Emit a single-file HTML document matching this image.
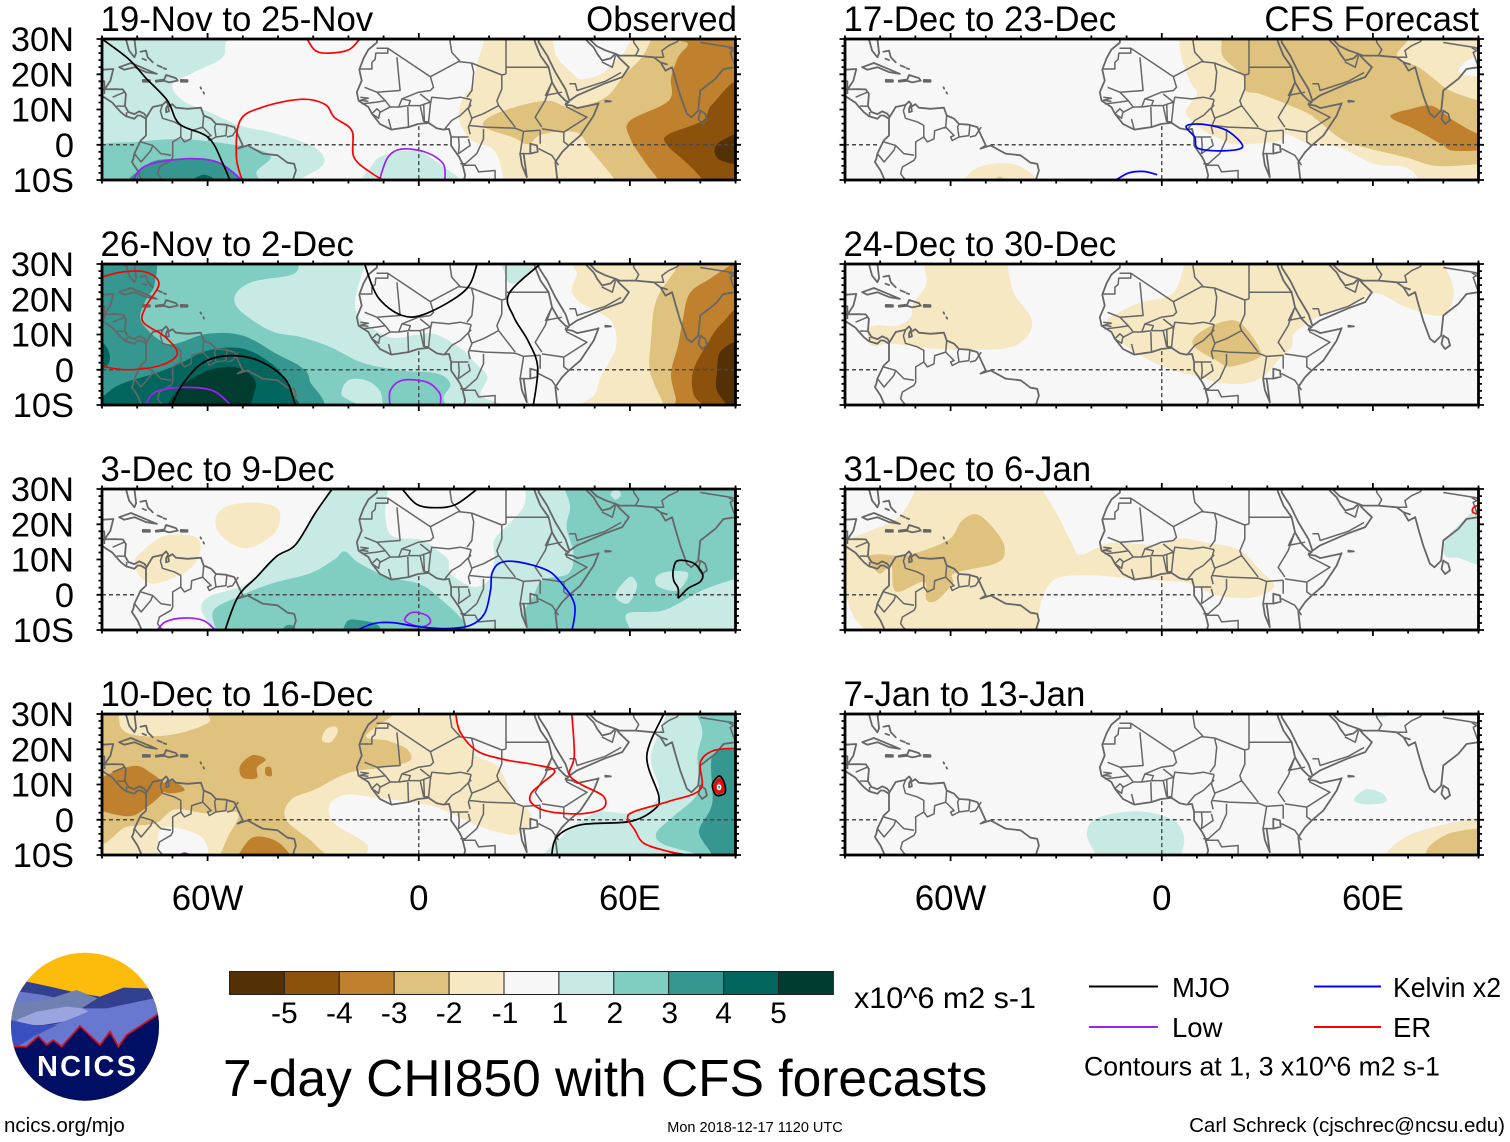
<!DOCTYPE html>
<html lang="en">
<head>
<meta charset="utf-8">
<title>7-day CHI850 with CFS forecasts</title>
<style>
html,body{margin:0;padding:0;background:#fff}
svg{display:block}
text{font-family:"Liberation Sans",Arial,sans-serif;fill:#000}
</style>
</head>
<body>
<svg id="chart" xmlns="http://www.w3.org/2000/svg" width="1510" height="1142" viewBox="0 0 1510 1142">
<rect width="1510" height="1142" fill="#fff"/>
<defs>
<clipPath id="logo-clip"><circle cx="85" cy="1026.7" r="74"/></clipPath>
</defs>
<g id="panels"></g>
<g id="colorbar"></g>
<g clip-path="url(#logo-clip)">
<g transform="translate(0,940) scale(0.33333)">
<rect x="25" y="30" width="460" height="460" fill="#fdbb0c"/>
<polygon points="80,125 150,140 215,155 300,170 370,143 445,145 490,215 30,270 30,230 55,160" fill="#33408f"/>
<polygon points="35,200 60,155 130,165 175,175 130,195 35,215" fill="#6a7ac8"/>
<polygon points="32,245 40,190 130,182 230,150 292,175 240,208 60,245" fill="#7080b0"/>
<polygon points="250,205 320,205 460,175 480,225 480,340 30,340 45,325 100,275 190,245" fill="#6878d0"/>
<polygon points="50,240 110,215 200,200 250,205 265,215 190,245 110,258 60,250" fill="#9aa5e0"/>
<polygon points="30,240 100,255 172,255 100,290 50,322 30,322" fill="#3a4fc0"/>
<polygon points="40,320 80,320 115,288 140,315 160,300 185,320 240,258 300,315 330,275 355,320 380,285 475,222 490,222 490,490 30,490" fill="#000e63"/>
<polyline points="40,320 80,320 115,288 140,315 160,300 185,320 240,258 300,315 330,275 355,320 380,285 475,222" fill="none" stroke="#d8101c" stroke-width="5"/>
</g>
</g>
<text x="37" y="1076" font-size="29" font-weight="bold" textLength="99" lengthAdjust="spacing" style="fill:#fff">NCICS</text>
<text x="854" y="1008" font-size="30" textLength="182" lengthAdjust="spacingAndGlyphs">x10^6 m2 s-1</text>
<text x="223" y="1096" font-size="51.5">7-day CHI850 with CFS forecasts</text>
<g>
<line x1="1089" y1="986.5" x2="1158" y2="986.5" stroke="#000" stroke-width="2"/>
<text x="1172" y="997" font-size="27.5">MJO</text>
<line x1="1314" y1="986.5" x2="1381" y2="986.5" stroke="#0000ff" stroke-width="2"/>
<text x="1393" y="997" font-size="27.5" textLength="108" lengthAdjust="spacingAndGlyphs">Kelvin x2</text>
<line x1="1089" y1="1027" x2="1158" y2="1027" stroke="#a020f0" stroke-width="2"/>
<text x="1172" y="1037" font-size="27.5">Low</text>
<line x1="1314" y1="1027" x2="1381" y2="1027" stroke="#ff0000" stroke-width="2"/>
<text x="1393" y="1037" font-size="27.5">ER</text>
<text x="1084" y="1075.5" font-size="27" textLength="356" lengthAdjust="spacingAndGlyphs">Contours at 1, 3 x10^6 m2 s-1</text>
</g>
<text x="4" y="1132" font-size="20.5">ncics.org/mjo</text>
<text x="755" y="1132" font-size="14.5" text-anchor="middle">Mon 2018-12-17 1120 UTC</text>
<text x="1505" y="1132" font-size="20.5" text-anchor="end">Carl Schreck (cjschrec@ncsu.edu)</text>
</svg>
<script>
// ---- colour scale ----
const levelColors = ['#543005','#8c510a','#bf812d','#dfc27d','#f6e8c3','#f7f7f7','#c7eae5','#80cdc1','#35978f','#01665e','#003c30'];
const barLabels = ['-5','-4','-3','-2','-1','1','2','3','4','5'];
const contourColors = {mjo:'#000000',low:'#a020f0',kelvin:'#0000ff',er:'#ff0000',eye:'#ffffff'};
const latTickLabels = [[30,'30N'],[20,'20N'],[10,'10N'],[0,'0'],[-10,'10S']];
const lonTickLabels = [[-60,'60W'],[0,'0'],[60,'60E']];
const panelTitles = ['19-Nov to 25-Nov','26-Nov to 2-Dec','3-Dec to 9-Dec','10-Dec to 16-Dec','17-Dec to 23-Dec','24-Dec to 30-Dec','31-Dec to 6-Jan','7-Jan to 13-Jan'];

// ---- shaded anomaly regions: [colour level, [[lon,lat],...]] ----
const shades1 = [
[6,[[-92,33],[-55,33],[-55,28.6],[-56,24.5],[-64,20.5],[-70,17],[-67,12.5],[-60,9.5],[-51,5.5],[-42,3.5],[-31,0],[-27,-3.5],[-28,-6.5],[-34,-10],[-36,-13],[-92,-13]]],
[6,[[-15,-13],[-13,-5.5],[-9,-2.7],[-0.5,-1.7],[6,-5.5],[12,-10],[13,-13]]],
[7,[[-92,-1],[-80,0.8],[-69,1.6],[-60,1],[-47,-1],[-42,-3.5],[-46,-7.5],[-49,-13],[-92,-13]]],
[8,[[-82,-13],[-77,-5.5],[-69,-4],[-58,-4.5],[-50,-10],[-50,-13]]],
[9,[[-67,-13],[-61,-8.5],[-55,-13]]],
[4,[[19,33],[18.7,30],[16.6,23],[15.3,17.2],[11.8,11.5],[11.8,5.9],[15.3,1.1],[21.5,-1.7],[24.2,-10],[24,-13],[93,-13],[93,33]]],
[5,[[37.5,33],[38,30],[39.3,24.8],[43.5,20.5],[46,18.6],[51.7,20],[55.8,23.8],[58.6,26.7],[59,33]]],
[3,[[66,33],[66,30],[63.4,24.8],[58.6,20],[53,13.4],[43.5,10.6],[36.6,12.5],[27,10.6],[20,7.8],[18.7,5],[27,2],[31,0.2],[35.2,3],[44.8,3.5],[49,-1.7],[55.8,-10],[56,-13],[93,-13],[93,33]]],
[2,[[73,33],[73,30],[76.5,28.6],[73.7,24.8],[71.7,19],[71,12.5],[60,6.8],[60,2],[64,-4.5],[68,-10],[68,-13],[93,-13],[93,33]]],
[1,[[92,17],[83.4,11.5],[80.6,6.8],[71,3],[70.3,0.2],[76.5,-5.5],[80.6,-10],[81,-13],[93,-13]]],
[0,[[93,3.5],[86,1.1],[84,-1.7],[86,-4.5],[93,-5]]]
];
const shades2 = [
[6,[[-92,33],[-15,33],[-16,28],[-18,20],[-17,15],[-12,11],[-7,9],[0,10],[5,10],[12,6],[16,2],[19.5,-2],[17.5,-7],[19,-13],[-92,-13]]],
[6,[[24,33],[24.5,27],[26,24.5],[29,25],[32,28],[35,33]]],
[7,[[-92,33],[-34,33],[-34,30],[-36,27],[-47,25],[-52,21.5],[-51,17],[-42,11],[-33.5,9.3],[-25,6.4],[-16,2],[-5,-0.2],[5,-1],[9,-4],[7,-8],[8,-13],[-8,-13],[-11,-6],[-15,-3],[-20,-3],[-22,-7],[-20,-13],[-92,-13]]],
[8,[[-92,33],[-76,33],[-75,24.4],[-77.6,19.7],[-79,14],[-73.5,8.3],[-69,7.4],[-60,10.2],[-50,9.7],[-40.4,4.5],[-33.5,0.8],[-31,-3],[-31.5,-13],[-92,-13]]],
[9,[[-92,-10],[-89,-7],[-84.5,-4],[-74.8,-1],[-68,1.7],[-59.7,5.5],[-50,6],[-41.8,1.7],[-37.7,-3],[-36.3,-6],[-38.4,-13],[-92,-13]]],
[9,[[-92,8],[-90,8],[-88,5],[-88,2],[-90,0],[-92,0]]],
[10,[[-70.7,-13],[-68.6,-6],[-61,-0.7],[-52.8,0.8],[-47.3,-2],[-46.6,-6],[-51.4,-13]]],
[4,[[47,33],[45,27],[43.5,22.5],[46,19],[54.5,14],[56,6.4],[51.7,-2],[50,-7],[46,-13],[93,-13],[93,33]]],
[3,[[74,33],[73.7,29.6],[67.5,19.7],[66,8.3],[65.5,0.8],[66.9,-4],[69.6,-10],[70,-13],[93,-13],[93,33]]],
[2,[[93,33],[89,30],[83,26],[77,21.7],[75,14],[73.7,7],[71.7,-1],[73,-8],[74,-13],[93,-13]]],
[1,[[93,17],[86,13],[82,7.4],[78,-0.2],[78,-6.8],[80.6,-10],[81,-13],[93,-13]]],
[0,[[93,7],[86,5.5],[84.7,-1],[84.7,-5.9],[87.5,-10],[88,-13],[93,-13]]]
];
const shades3 = [
[6,[[-25,33],[-25.3,30],[-29.4,23],[-35,13.7],[-41.8,10],[-48.7,3.2],[-59.7,-0.6],[-61.7,-4.4],[-58.3,-10],[-58,-13],[93,-13],[93,33]]],
[5,[[-8.8,33],[-8.8,30],[-9.5,22.3],[-7.4,16.6],[0.8,15.6],[5,12.8],[8.4,9.9],[9,6.1],[15.3,2.3],[20,4.2],[21.5,10],[21.5,15.6],[25.6,20],[29.8,25],[30.4,30],[30.4,33]]],
[7,[[40,33],[41.4,30],[43,25],[42,19],[44,11.7],[42.5,6],[35.2,4.2],[32.5,-0.6],[29.7,-5.3],[31,-10],[31,-13],[60,-13],[60,-10],[59.3,-5.3],[69.6,-4.4],[80,1],[89,4.2],[93,5],[93,33]]],
[6,[[55.8,-0.1],[60,5.1],[62,2.3],[59.3,-2.5]]],
[6,[[67.5,5.1],[71,6.6],[76.5,6.1],[73.7,1.3],[68,2.3]]],
[6,[[54.5,28.5],[56,30],[57.5,28.5],[56,27]]],
[7,[[-21,12.3],[-17,9],[-8.8,5.1],[0.8,2.8],[7.7,-2.5],[12.5,-7.2],[13.2,-10],[13,-13],[-57,-13],[-57.6,-10],[-58.3,-4.4],[-51.4,-0.6],[-41.8,3.2],[-30.8,6.1],[-24,10]]],
[8,[[-21,-13],[-20.5,-7.7],[-17,-7.2],[-11.5,-8.7],[-11,-13]]],
[8,[[-40,-13],[-38,-9],[-35.5,-9],[-34,-13]]],
[4,[[-57,23.2],[-52.8,25.6],[-44.6,26],[-39.6,23.7],[-41,17.5],[-48.7,13.2],[-54.9,15.6],[-57.6,19.4]]],
[4,[[-80.7,9],[-79.2,11.8],[-72.4,16.6],[-64,16.6],[-62,12.8],[-65.4,7],[-74.8,3.2],[-79,5]]]
];
const shades4 = [
[4,[[-92,33],[10.5,33],[10.5,29.7],[13,22.9],[16.6,18.1],[22.8,14.8],[27,5.7],[31,2.9],[31.8,-1],[27,-4.3],[17.3,-1.9],[9,1.9],[2.2,4.3],[-11.5,6.2],[-20.5,7.1],[-25.3,4.3],[-24,-1],[-15,-6.7],[-15,-10],[-15,-13],[-92,-13]]],
[5,[[-74,-13],[-74,-9.5],[-73.5,-2.9],[-68,-2.4],[-61,-5.7],[-61,-13]]],
[3,[[-92,33],[-86,33],[-84.5,26],[-79,23.8],[-69.3,24.3],[-59.7,27.6],[-56,33],[-7,33],[-7.4,29.7],[-15,23.8],[-8.8,22.4],[-3.3,20],[-2.6,16.7],[-10,14.8],[-20,13.3],[-29.4,8.6],[-36.3,5.7],[-37.7,0],[-29.4,-7.1],[-26.7,-13],[-56,-13],[-56.3,-10],[-54.2,-4.8],[-51.4,1.9],[-61,1.9],[-69.3,2.9],[-74.8,-1],[-83,-2],[-92,-5]]],
[4,[[-27.5,22.5],[-26.5,25.5],[-24,26.5],[-23,25],[-25,22]]],
[2,[[-93,10],[-81.7,15.2],[-76.2,13.3],[-72,9],[-77.6,3.3],[-83,1],[-93,4]]],
[2,[[-73,10],[-70,11],[-66.5,8.5],[-70,7.5],[-72.5,8]]],
[2,[[-50.8,15.2],[-47.3,18.3],[-43.5,17.1],[-46,14.8],[-46,11.9],[-50,11.9]]],
[2,[[-43.5,14.8],[-42,14.8],[-41.8,12.4],[-43.5,12.8]]],
[2,[[-51,-13],[-48.7,-6.2],[-44.6,-4.8],[-39,-7.1],[-36.3,-13]]],
[6,[[39,-13],[40.7,-4.8],[50.3,1.9],[60,1.9],[66.9,4.8],[68.2,9.5],[66,18],[70.3,29.7],[70,33],[93,33],[93,-13]]],
[7,[[79,33],[79.2,29.7],[80.6,24.8],[79.2,18],[79.2,7.6],[72.4,1],[67.5,-3.8],[69.6,-7],[79.2,-10],[79,-13],[93,-13],[93,33]]],
[8,[[93,20],[90,20],[83.4,18],[83.4,4.8],[80,-1.9],[80,-4.8],[83.4,-10],[84,-13],[93,-13]]]
];
const shades5 = [
[4,[[5,33],[5,30],[5.6,24.8],[8,18],[10,14.4],[6.9,9.6],[9.4,5.9],[15.6,2],[21.9,0.2],[33,1],[35.6,3],[41.9,0.2],[50.6,-0.8],[60.6,-5.5],[69.4,-6.4],[73,-10],[73,-13],[93,-13],[93,33]]],
[5,[[89,24.8],[85.6,23],[84.4,20.5],[88,19.6],[93,20],[93,25]]],
[3,[[17,33],[17,29.5],[17.5,24.8],[23,19.6],[23.8,15.3],[28,14.4],[35.6,11.5],[41.9,8.7],[44.4,6.8],[51.9,1.1],[59.4,-1.2],[69.4,-3.6],[78,-6],[90,-5.5],[93,-5],[93,12],[90,12.5],[82,15.3],[78,18.2],[73,22],[66.9,25.2],[66.9,33]]],
[2,[[65.6,8.7],[70.6,10.1],[76.9,11],[83,6.8],[90,3],[93,3],[93,-1],[83,-1.7],[79.4,0.2],[71.9,4.4],[65.6,7.3]]],
[4,[[-55.6,-13],[-53.8,-7.4],[-46.9,-5.2],[-40.6,-6],[-35.6,-9.7],[-35,-13]]],
[3,[[-48.5,-12],[-46,-9],[-43.5,-12]]]
];
const shades6 = [
[4,[[-67.5,33],[-67.5,29.6],[-66.9,24.4],[-70.6,18.7],[-71.3,15],[-75,12.5],[-80.6,12.6],[-83.4,11.6],[-82.5,6.9],[-76.9,7.4],[-64.4,6],[-46.9,5.8],[-39.4,8.3],[-36.9,14],[-41.9,21.6],[-43.8,29.6],[-43.8,33]]],
[4,[[6.3,33],[6.3,29.6],[3,21.6],[-5.6,19.2],[-11.9,16.4],[-15.6,13.5],[-11.9,8.3],[-6.9,4.5],[2,0.3],[10.6,-2],[15.6,-3.5],[23,-4],[28.8,-2],[33,2.6],[36.9,6.4],[37.5,10.2],[42.5,14],[44.4,15],[55.6,19.2],[61.3,21.6],[69.4,17.8],[79.4,15.4],[83,21.6],[80.6,29.6],[80.6,33]]],
[3,[[9.4,9.3],[14.4,12.6],[20.6,14],[24.4,11.2],[28,5.5],[27,3.1],[19.4,0.9],[15.6,2.6],[9.4,6.4]]]
];
const shades7 = [
[4,[[-93,-1],[-90,-0.6],[-87.5,-6.3],[-84.4,-10],[-84,-13],[-35,-13],[-35,-10],[-34.4,-2.5],[-30.6,4.2],[-21.9,5.6],[-9.4,4.7],[0,4],[8,3.2],[15.6,-0.1],[25.6,-0.8],[31.9,2.3],[28,7],[21.9,12.8],[13,14.7],[5.6,16],[-1.9,14.2],[-14.4,14.7],[-23,11.3],[-25.6,14.7],[-29.4,22.3],[-33.8,30],[-33,33],[-70,33],[-70,30],[-74.4,22.3],[-81.9,18.5],[-90,15.6],[-93,15]]],
[3,[[-83,11],[-80,11.5],[-72,11.3],[-60.6,15.6],[-56.9,20.9],[-52.5,22.8],[-47.5,18.5],[-44.6,13.2],[-46.9,9],[-58.8,6.1],[-59.4,3.2],[-63.8,-1.5],[-66.9,-1.5],[-67.5,3.7],[-74.4,0.9],[-76.3,2.3],[-76.9,8.5],[-80,6],[-83,9]]],
[6,[[80.6,10.9],[80.6,15.6],[86.9,22.3],[90,25],[93,25],[93,9],[90,8.5],[84.4,10.4]]]
];
const shades8 = [
[6,[[-21.3,-3.8],[-18.1,0.5],[-6.9,2.4],[3.1,0],[6.3,-4.8],[5.6,-10],[5.6,-13],[-19,-13],[-18.8,-10]]],
[6,[[54.8,6.2],[58.1,8.6],[62.5,7.6],[63.8,5.2],[59.4,4.3],[55.6,4.8]]],
[6,[[60,33],[60.5,30],[62.5,29],[65,30],[65,33]]],
[4,[[63.8,-9.5],[69.4,-4.8],[78,-1.9],[90,0.5],[93,0.5],[93,-13],[63,-13]]],
[3,[[75,-9.5],[76.9,-6.7],[82,-3.8],[90,-2.4],[93,-2.4],[93,-13],[75,-13]]]
];

// ---- contour lines: [wave type, [[lon,lat],...], closed, optional width] ----
const contours1 = [
['low',[[-81.4,-10.5],[-77.6,-6],[-66.6,-4],[-57,-5],[-49.8,-10.5]]],
['low',[[-11.3,-10.5],[-8.8,-3.6],[-4.7,-1.2],[2.2,-2.2],[7,-5.5],[7.4,-10.5]]],
['er',[[-32,30.5],[-29.4,26.7],[-25.3,26],[-19.8,27],[-16.8,30]]],
['er',[[-50,-10.5],[-51.8,-3.6],[-50.8,6.8],[-44.6,10.6],[-33.6,12.9],[-26.7,11.5],[-24,7.8],[-19,4],[-18.4,-3.6],[-13,-8.3],[-9,-10.5]]],
['mjo',[[-90,30],[-82.4,24.3],[-77.6,19],[-71.4,12.5],[-68,5.9],[-59.7,2],[-55.6,-5.5],[-53.5,-10.5]]]
];
const contours2 = [
['er',[[-91,26],[-84.5,27.7],[-77.6,27.7],[-73.8,24.4],[-77.6,17.8],[-78.3,13.5],[-72,9.3],[-68.6,4.5],[-73.5,1.2],[-83,0],[-91,1.2]]],
['low',[[-77.9,-10.5],[-74.8,-6.3],[-66.6,-5],[-58.3,-6],[-53,-10.5]]],
['low',[[-8.1,-10.5],[-8.1,-6],[-4.7,-3],[2.2,-3.5],[6,-6.8],[6,-10.5]]],
['mjo',[[-70.4,-10.5],[-67,-4],[-61,2.2],[-52.8,4],[-44.6,2.2],[-37.7,-3],[-35,-10.5]]],
['mjo',[[-15.4,30],[-11.6,20.6],[-4.7,15.4],[2.2,16],[13.2,22.5],[16.6,30]]],
['mjo',[[34.5,30],[25.6,21.5],[27,15],[31,8.3],[33.8,0.8],[32.5,-10.5]]]
];
const contours3 = [
['low',[[-74.6,-10.5],[-72,-7.7],[-66.6,-6.6],[-61,-7.4],[-57.4,-10.5]]],
['low',[[-4,-7.2],[-1.9,-5],[2.2,-5.8],[3.3,-7.7],[1.5,-9],[-1.2,-8.7]],true],
['kelvin',[[-18.4,-10.5],[-13,-8.2],[-7.4,-7.9],[-0.5,-9],[7.7,-9.6],[14.6,-8.7],[18.7,-5.3],[20.4,1.3],[20.8,6.1],[23,9],[27.6,9.4],[35.2,7.5],[39.3,4.7],[44.2,-2.5],[43.5,-10.5]]],
['mjo',[[-55.2,-10.5],[-51.4,-0.6],[-46,5.1],[-40.4,10.9],[-35,14.2],[-29.4,23.2],[-24.6,30]]],
['mjo',[[-4.7,30],[-0.5,25.6],[5,24.7],[10.5,25.6],[16.6,30]]],
['mjo',[[73.7,-1],[76.5,1.8],[80,3.7],[80.6,6],[78,9],[73.7,9.7],[72.4,7.5],[72.4,4.2],[73.7,1.8],[73.7,-1]]]
];
const contours4 = [
['low',[[-69,-10.5],[-66.5,-9.5],[-64,-10.5]]],
['er',[[10.5,30],[11.8,24.8],[16.6,19.5],[24.2,17.1],[32.5,15.7],[38.6,14],[35.2,10.5],[32,7.6],[32,4.8],[36.6,2.4],[46.2,1.7],[52.4,3.3],[52.4,6.7],[46.2,10],[42.8,12.9],[44.2,18.1],[43.5,30]]],
['mjo',[[37.7,-10.5],[39.3,-4.8],[46.2,-1.4],[60,-0.5],[66.9,2.9],[68.2,6.7],[64.8,18.1],[69.6,30]]],
['er',[[79.2,-10.5],[71,-9],[64,-6.7],[61.4,-2.9],[59.3,0.5],[61.4,2.4],[71,5.2],[80,8.6],[80,16.2],[83.4,19.5],[88.9,20.2],[90,20]]],
['mjo',[[83.6,10.5],[85.4,12.4],[86.8,10.5],[87,7.6],[84.7,6.9],[83.6,8.6]],true],
['er',[[84.3,10],[85.5,11.3],[86.2,10],[86.3,8.2],[85,7.8],[84.2,8.8]],true,3.2],
['eye',[[85,9.7],[85.7,9.7],[85.7,8.8],[85,8.8]],true,1.4]
];
const contours5 = [
['kelvin',[[6.9,5.1],[10,5.9],[15.6,5.1],[19.4,3.5],[22.9,0],[21.3,-1.4],[14.4,-1.7],[10,-0.8],[9.4,2.1]],true],
['kelvin',[[-13,-10],[-9.4,-8],[-5,-7.6],[-1.3,-8.5]]]
];
const contours6 = [];
const contours7 = [
['er',[[90,25.4],[88.5,24.7],[88.4,23.4],[90,22.8]]]
];
const contours8 = [];

// ---- geography (lon,lat polylines), shared by all panels ----
const coastLines = [
// West Africa
[[-11.9,30],[-11.9,29],[-14.3,27],[-15.7,24.5],[-16.9,21.3],[-16.2,18.2],[-17.6,14.9],[-17.1,12.5],[-14.3,10.7],[-13.3,8.8],[-11,5.9],[-7.8,4.3],[-2.9,5],[-0.2,5.9],[2.8,6.2],[5.1,4.7],[7,4.3],[8.6,4.5],[9.2,2.2],[9.2,-0.2],[11.5,-3.5],[12.3,-5.1],[13.2,-8.7],[12.7,-10.5]],
// East Africa
[[32.8,30],[33.1,29],[34.6,25.3],[36.9,22],[37.9,17.7],[39.8,14.4],[41.7,12.5],[42.6,12.1],[41.7,11.4],[43.6,11.1],[45,10.4],[50.7,11.6],[51.1,11.8],[49.7,8.3],[45.9,2.6],[42.6,-0.2],[40.7,-2.1],[38.8,-4.9],[39.3,-9.4],[39.3,-10.5]],
// Arabia
[[34,30],[34.1,29],[36.5,25.3],[38.8,20.6],[41.7,15.8],[42.8,12.5],[45,14],[52.6,17.3],[57.8,19.2],[59.7,22],[57.3,24.3],[55.9,25.8],[54.5,24.5],[52.1,23.9],[50.7,25.8],[49.7,27.6],[47.8,29.5],[47.5,30]],
// Iran, Pakistan, India
[[48.5,30],[50.5,28],[53,26.8],[55.9,25.8],[57,25.3],[61.6,25.3],[66.8,24.8],[68.7,23.4],[70.1,21],[72,22],[72.9,18.7],[74.3,14],[76.2,8.8],[77.5,7.8],[79.4,9.7],[80,15.4],[84.3,18.7],[86.6,21.5],[90,22]],
[[68.7,23.4],[70.5,22.8]],
// Sri Lanka
[[80,9.7],[81.4,8.8],[81.9,6.9],[80.5,5.9],[79.5,7.3],[80,9.7]],
// Florida, Bahamas
[[-83.2,30],[-82.3,26.7],[-80.8,24.8],[-80.3,26],[-80.8,30]],
[[-79.1,26.4],[-77.5,26.7],[-77,24.8],[-75.6,23.4]],
[[-78.5,24.4],[-77.5,24]],
[[-74.2,22.5],[-73,22]],
[[-72.5,21.7],[-71.8,21.5]],
// Cuba
[[-85.1,22],[-81.8,23.2],[-78.9,22],[-74.4,20.1],[-77.5,20.6],[-80.8,22],[-83.7,21.3],[-85.1,22]],
// Jamaica, Hispaniola, Puerto Rico
[[-78.4,18.4],[-76.4,18.3],[-76.4,17.9],[-78.4,17.9],[-78.4,18.4]],
[[-74.7,18.2],[-72.3,18.5],[-71.8,19.8],[-69,18.9],[-68.5,18.2],[-70.9,17.7],[-72.3,18.1],[-74.7,17.9]],
[[-67.6,18.4],[-65.7,18.3],[-65.7,17.9],[-67.6,17.9],[-67.6,18.4]],
[[-62,16.3],[-61.8,15.9]],
[[-61.2,14.9],[-61,14.5]],
// Socotra
[[53,12.5],[54.6,12.3],[53,12.2]],
// Yucatan
[[-89.8,21.3],[-86.8,21.5],[-87.6,18.2],[-89.2,15.8]],
// Atlantic side of Central and South America
[[-90.5,15.7],[-86.5,15.8],[-84.1,15.7],[-83.2,14.4],[-83.5,11],[-82.5,9.3],[-80.8,8.7],[-79.4,9.5],[-78,8.8],[-77.3,7.9],[-75.6,10.7],[-72.8,11.3],[-71.8,12.3],[-71.2,11.5],[-71.8,10.3],[-71.8,9.2],[-71,9.5],[-71.2,10.8],[-70,11.5],[-69,10.5],[-65.7,10.2],[-61.9,10.5],[-61.1,8.3],[-59,7.4],[-57.6,5.9],[-54.8,5.7],[-52.4,5],[-51.3,2.6],[-50,-0.2],[-51.5,-1.1],[-50,-0.6],[-48.6,-0.2],[-44.4,-2.5],[-40.1,-3],[-37.3,-5.1],[-35.4,-5.4],[-34.9,-7.3],[-35.6,-9.4],[-36,-10.5]],
// Pacific side
[[-90.5,14.2],[-87,11.9],[-86,10.7],[-84.6,9.2],[-83.2,8.1],[-80.8,7.4],[-79.9,8.3],[-79,8.3],[-77.5,7.4],[-77.5,2.6],[-79,1.2],[-80.8,-2.5],[-81.1,-4],[-81.5,-4.9],[-79.9,-7.3],[-78.5,-10.5]],
// Lakes
[[31.7,0.3],[33.6,-0.2],[33.8,-2],[31.7,-2.5],[31.7,0.3]],
[[28.8,-2.5],[29.3,-5.8],[30.7,-9.2],[30.3,-6.2],[29.8,-2.5]]
];
const borderLines = [
// Western Sahara, Mauritania
[[-12,27.4],[-8.8,27.4],[-8.8,26],[-12.2,26],[-12.4,24.2],[-13.3,23.4],[-13.3,21.5],[-16.9,21.5]],
[[-8.8,27.4],[3.3,19.3]],
[[-6.2,24.8],[-5.3,15.4],[-11.9,14.9],[-15.4,16.3]],
// Mali
[[3.3,19.3],[4.2,16.3],[3.3,15.4],[-0.1,14.9],[-4.8,13],[-5.7,10.7]],
[[-11.9,14.9],[-9.5,12.5],[-8.1,10.7],[-5.7,10.7]],
// Senegal, Gambia, Guinea
[[-16.6,13.5],[-14.3,13.2],[-16.6,12.6],[-14.3,12.3]],
[[-16.2,11.6],[-11.9,12.1],[-9.5,12.5]],
[[-13.3,8.8],[-11.9,10.2],[-11,9.4],[-11.4,7.5],[-13.3,8.8]],
[[-11,9.2],[-8.1,10.7]],
[[-8.6,7.3],[-7.8,4.3]],
// Burkina, Ghana, Togo, Benin
[[-5.7,10.7],[-2.9,11.1],[-2.4,12.5],[-4.8,13]],
[[-2.9,11.1],[0.4,11.1],[3.3,12.1],[0.4,14.4]],
[[-3.1,10.7],[-2.9,5]],
[[0.4,11.1],[1.4,6.5]],
[[1.4,11.5],[1.6,6.5],[2.8,6.5],[3.3,11.5],[3.3,12.1]],
// Niger, Nigeria, Chad, Cameroon
[[3.3,11.5],[3.7,13.5],[8.5,13],[11.8,13.5],[14.9,12.8]],
[[14.9,11.3],[11.8,8.3],[9.4,6.9],[7.4,4.5]],
[[14.9,12.8],[14.1,10.2],[15.1,7.4],[14.1,5],[14.6,3]],
[[9.2,2.2],[14.1,2.2]],
[[15,23.2],[15.6,20.6],[15.1,15.4],[13.7,13.5]],
[[3.3,19.3],[11.3,23.6],[15,23.2]],
[[8.9,30],[8.9,29.2],[9.4,26.2],[11.8,23.6]],
[[15,23.2],[23.6,19.8],[24.8,20.1]],
[[24.8,30],[24.8,20.1]],
[[24.8,22],[36.9,22]],
// Sudan, CAR, South Sudan
[[23.6,19.8],[23.6,15.8],[22.2,12.5],[22.7,11.1],[18.4,8.8],[14.9,7.5]],
[[22.7,11.1],[27.4,5]],
[[14.1,5.5],[18.9,5],[27.4,4.7],[29.8,3.8],[34.5,4.1]],
[[37.8,17.7],[35.9,12.5],[33.1,7.8],[35,5]],
[[37.8,17.7],[36,14],[40.7,14.9]],
// Congo, Gabon, DRC, Angola
[[18.4,4.5],[18.4,1.7],[16.5,-2.5],[13.2,-5.4],[11.8,-5.4]],
[[11.3,2.2],[11.5,-0.2],[11.3,-2.5],[14.6,-0.2],[14.1,1.7]],
[[12.7,-5.8],[16,-5.8],[17,-7.7],[21.7,-7.3],[21.7,-10.5]],
// Uganda, Kenya, Tanzania
[[34.5,4.1],[34.5,0.3]],
[[28.8,-2.5],[31.7,-2.5]],
[[34,-1.1],[37.8,-3],[39.7,-5.8]],
[[28.8,-2.5],[29.8,3.8]],
// Ethiopia, Somalia
[[35,4.5],[41.2,3.6],[47.8,7.8],[42.1,10.7],[41.7,12]],
[[41.2,3.6],[41.2,0.8],[42.6,-0.2]],
// Arabia
[[42.8,17.3],[44.5,17.3],[45,15.4],[53,18],[57.5,20.5]],
[[55.9,25.3],[55,22],[52,23.5]],
// Iran/Pakistan/India
[[61.6,25.3],[62.5,27],[61.1,29],[61,30]],
[[66.8,24.8],[69.6,24.8],[69.1,26.7],[71,28.1],[73.4,29.2],[74,30]],
[[80,29],[89,27.6],[90,27.2]],
[[88,27.6],[89.5,26.7],[88.5,26.2],[90,22]],
// Central America
[[-89.8,18],[-89.3,18],[-89.3,15.7],[-89.3,14.4]],
[[-87,13.5],[-83.5,15]],
[[-85.8,11],[-83.7,10.9]],
[[-83,9.3],[-83,8.2]],
// South America
[[-72.8,11.3],[-73.4,9.6],[-72.8,7.5],[-69.5,6.5],[-67.6,5.5],[-67.6,2.2],[-66.6,0.8],[-64.7,1.7],[-64.5,4],[-61.4,5],[-61.1,8.3]],
[[-77.3,7.9],[-77.5,7.4]],
[[-67.6,2.2],[-69.9,0.8],[-69.9,-3.5],[-70.4,-4.4],[-73.7,-6.3],[-74.2,-8.2],[-73.3,-9.4],[-72,-10.5]],
[[-79,0.8],[-75.6,-0.2],[-73.3,-2.5],[-70.4,-3]],
[[-75.6,-0.2],[-76.1,-1.6],[-78.9,-4.9],[-80.8,-2.5]],
[[-61.4,5],[-59,2.6],[-60,2.2],[-59.5,1.2],[-57.6,2.2],[-58,5],[-57.6,5.9]],
[[-57.6,2.2],[-54.8,2.6],[-54.5,5.7]],
[[-54.5,2.2],[-52.9,2.6],[-51.3,5]]
];
const equatorOceanSegments = [[-90,-80.3],[-48.6,8.9],[43,90]];
const meridianOceanSegment = [5.3,-10];

const allShades = [shades1,shades2,shades3,shades4,shades5,shades6,shades7,shades8];
const allContours = [contours1,contours2,contours3,contours4,contours5,contours6,contours7,contours8];

// ---- layout ----
const PANEL_W = 633.5, PANEL_H = 141;
const panelLeft = [102,845];
const panelTop = [39,264,489,714];
const LON_MIN = -90, LON_MAX = 90, LAT_MAX = 30, LAT_MIN = -10;
const NS = 'http://www.w3.org/2000/svg';

function xAxis(col, lon){ return panelLeft[col] + (lon-LON_MIN)/(LON_MAX-LON_MIN)*PANEL_W; }
function yAxis(row, lat){ return panelTop[row] + (LAT_MAX-lat)/(LAT_MAX-LAT_MIN)*PANEL_H; }
function el(parent, tag, attrs){
  const e = document.createElementNS(NS, tag);
  for (const k in attrs) e.setAttribute(k, attrs[k]);
  parent.appendChild(e);
  return e;
}
function smooth(pts, closed){
  const n = pts.length, f = v => v.toFixed(1);
  let d = 'M'+f(pts[0][0])+' '+f(pts[0][1]);
  const last = closed ? n : n-1;
  for (let i=0;i<last;i++){
    const p0 = closed ? pts[(i-1+n)%n] : pts[Math.max(i-1,0)];
    const p1 = pts[i%n];
    const p2 = pts[(i+1)%n];
    const p3 = closed ? pts[(i+2)%n] : pts[Math.min(i+2,n-1)];
    d += 'C'+f(p1[0]+(p2[0]-p0[0])/6)+' '+f(p1[1]+(p2[1]-p0[1])/6)+' '+f(p2[0]-(p3[0]-p1[0])/6)+' '+f(p2[1]-(p3[1]-p1[1])/6)+' '+f(p2[0])+' '+f(p2[1]);
  }
  return d + (closed ? 'Z' : '');
}

const root = document.getElementById('panels');
const svg = document.getElementById('chart');
const defs = svg.querySelector('defs');

for (let idx=0; idx<8; idx++){
  const col = idx<4 ? 0 : 1, row = idx%4;
  const X = lon => xAxis(col, lon), Y = lat => yAxis(row, lat);
  const proj = pts => pts.map(p => [X(p[0]), Y(p[1])]);
  const L = panelLeft[col], T = panelTop[row];

  const g = el(root,'g',{});
  
  

  const clip = el(defs,'clipPath',{id:'clip'+idx});
  el(clip,'rect',{x:L,y:T,width:PANEL_W,height:PANEL_H});

  const body = el(g,'g',{'clip-path':'url(#clip'+idx+')'});
  const bg = el(body,'rect',{x:L,y:T,width:PANEL_W,height:PANEL_H,fill:levelColors[5]});
  
  

  allShades[idx].forEach(s => {
    const p = el(body,'path',{d:smooth(proj(s[1]),true),fill:levelColors[s[0]]});
    
    
  });

  // dashed reference lines (ocean only)
  equatorOceanSegments.forEach(seg => {
    const l = el(body,'line',{x1:X(seg[0]),x2:X(seg[1]),y1:Y(0),y2:Y(0),stroke:'#4a4a4a',
      'stroke-width':1.4,'stroke-dasharray':'4 3'});
    
    
  });
  const mer = el(body,'line',{x1:X(0),x2:X(0),y1:Y(meridianOceanSegment[0]),y2:Y(meridianOceanSegment[1]),stroke:'#4a4a4a',
    'stroke-width':1.4,'stroke-dasharray':'4 3'});
  
  

  // geography
  const lineD = lines => lines.map(line => 'M'+line.map(p => X(p[0]).toFixed(1)+' '+Y(p[1]).toFixed(1)).join('L')).join('');
  const coast = el(body,'path',{d:lineD(coastLines),fill:'none',stroke:'#666','stroke-width':1.8,'stroke-linejoin':'round','stroke-linecap':'round'});
  
  
  const bord = el(body,'path',{d:lineD(borderLines),fill:'none',stroke:'#666','stroke-width':1.5,'stroke-linejoin':'round'});
  
  

  // contours
  allContours[idx].forEach(c => {
    const p = el(body,'path',{d:smooth(proj(c[1]),!!c[2]),fill:'none',stroke:contourColors[c[0]],
      'stroke-width':c[3]||1.7,'stroke-linejoin':'round'});
    
    
  });

  // frame
  const frame = el(g,'rect',{x:L,y:T,width:PANEL_W,height:PANEL_H,fill:'none',stroke:'#000','stroke-width':2.8});
  
  

  // ticks
  let tickD = '';
  for (let lat=LAT_MIN; lat<=LAT_MAX; lat+=2){
    const len = lat%10===0 ? 5.5 : 3.5, y = Y(lat).toFixed(1);
    tickD += 'M'+(L-len)+' '+y+'H'+L+'M'+(L+PANEL_W)+' '+y+'H'+(L+PANEL_W+len);
  }
  for (let lon=LON_MIN; lon<=LON_MAX; lon+=10){
    const len = lon%60===0 ? 6 : 3.5, x = X(lon).toFixed(1);
    tickD += 'M'+x+' '+(T-len)+'V'+T+'M'+x+' '+(T+PANEL_H)+'V'+(T+PANEL_H+len);
  }
  const ticks = el(g,'path',{d:tickD,fill:'none',stroke:'#000','stroke-width':1.8});
  
  

  // title
  const title = el(g,'text',{x:L-1.5,y:T-8,'font-size':34.8});
  title.textContent = panelTitles[idx];
  
  

  if (col===0){
    latTickLabels.forEach(t => {
      const lab = el(g,'text',{x:74,y:Y(t[0])+12,'font-size':34.4,'text-anchor':'end'});
      lab.textContent = t[1];
      
      
    });
  }
  if (row===3){
    lonTickLabels.forEach(t => {
      const lab = el(g,'text',{x:X(t[0]),y:910,'font-size':34.8,'text-anchor':'middle'});
      lab.textContent = t[1];
      
      
    });
  }
}

// header tags
const obs = el(root,'text',{x:737,y:31,'font-size':34.8,'text-anchor':'end'});
obs.textContent = 'Observed';


const fc = el(root,'text',{x:1479,y:31,'font-size':34.8,'text-anchor':'end'});
fc.textContent = 'CFS Forecast';



// colourbar
const cb = document.getElementById('colorbar');
const BAR_X = 229.5, BAR_Y = 971.5, BAR_W = 54.9, BAR_H = 23;
levelColors.forEach((c,i) => {
  const r = el(cb,'rect',{x:BAR_X+i*BAR_W,y:BAR_Y,width:BAR_W,height:BAR_H,fill:c,stroke:'#222','stroke-width':1});
  
  
});
barLabels.forEach((t,i) => {
  const lab = el(cb,'text',{x:BAR_X+(i+1)*BAR_W+(i>=4&&i<=7?1:0),y:1023,'font-size':30,'text-anchor':'middle'});
  lab.textContent = t;
  
  
});
</script>
</body>
</html>
